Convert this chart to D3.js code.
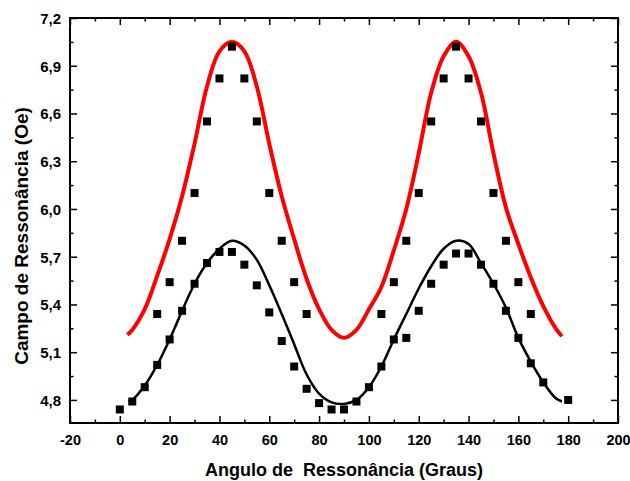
<!DOCTYPE html>
<html><head><meta charset="utf-8">
<script src="https://cdn.jsdelivr.net/npm/d3@7"></script>
<style>body{margin:0;background:#fff}svg{display:block}</style>
</head><body><svg id="c" width="630" height="481"></svg>
<script>
// ---- data ----
const lowerAngles = [0,5,10,15,20,25,30,35,40,45,50,55,60,65,70,75,80,85,90,95,100,105,110,115,120,125,130,135,140,145,150,155,160,165,170,180];
const lowerValues = [4.74,4.79,4.88,5.02,5.18,5.36,5.53,5.66,5.73,5.73,5.65,5.52,5.35,5.17,5.01,4.87,4.78,4.74,4.74,4.79,4.88,5.01,5.18,5.19,5.36,5.53,5.65,5.72,5.72,5.65,5.53,5.36,5.19,5.03,4.91,4.80];

const upperAngles = [15,20,25,30,35,40,45,50,55,60,65,70,75,105,110,115,120,125,130,135,140,145,150,155,160,165];
const upperValues = [5.34,5.54,5.80,6.10,6.55,6.82,7.02,6.82,6.55,6.10,5.80,5.54,5.34,5.34,5.54,5.80,6.10,6.55,6.82,7.02,6.82,6.55,6.10,5.80,5.54,5.34];

const redFitAngles = [3,5,10,15,20,25,30,35,40,45,50,55,60,65,70,75,80,85,90,95,100,105,110,115,120,125,130,135,140,145,150,155,160,165,170,175,177.5];
const redFitValues = [5.21,5.24,5.37,5.58,5.81,6.08,6.41,6.77,6.99,7.05,6.99,6.77,6.41,6.08,5.81,5.56,5.37,5.24,5.19,5.24,5.37,5.51,5.74,6.00,6.35,6.73,6.96,7.05,6.96,6.73,6.35,6.01,5.78,5.57,5.39,5.25,5.20];

const blackFitAngles = [3.5,5,10,15,20,25,30,35,40,45,50,55,60,65,70,75,80,85,90,95,100,105,110,115,120,125,130,135,140,145,150,155,160,165,170,175,177.5];
const blackFitValues = [4.79,4.80,4.89,5.02,5.18,5.36,5.53,5.66,5.75,5.80,5.77,5.68,5.52,5.34,5.15,4.96,4.84,4.785,4.775,4.80,4.88,5.01,5.18,5.34,5.50,5.64,5.75,5.80,5.78,5.66,5.53,5.38,5.19,5.04,4.91,4.81,4.79];

const xTickValues = [-20,0,20,40,60,80,100,120,140,160,180,200];
const xMinorValues = [-10,10,30,50,70,90,110,130,150,170,190];
const yTickValues = [4.8,5.1,5.4,5.7,6.0,6.3,6.6,6.9,7.2];
const yTickLabels = ["4,8","5,1","5,4","5,7","6,0","6,3","6,6","6,9","7,2"];
const yMinorValues = [4.95,5.25,5.55,5.85,6.15,6.45,6.75,7.05];

const xTitle = "Angulo de\u00a0 Ressonância (Graus)";
const yTitle = "Campo de Ressonância (Oe)";

// ---- layout ----
const L = 70, R = 618, T = 18, B = 423;
const svg = d3.select("#c");
const x = d3.scaleLinear().domain([-20,200]).range([L,R]);
const y = d3.scaleLinear().domain([4.655,7.2]).range([B,T]);
const FONT = "'Liberation Sans', Arial, sans-serif";

function styleAxis(g){
  g.select(".domain").remove();
  g.selectAll(".tick line").attr("stroke","#000").attr("stroke-width",1.5);
  g.selectAll("text").attr("font-family",FONT).attr("font-weight","bold").attr("fill","#000");
}
// bottom
svg.append("g").attr("transform",`translate(0,${B})`)
  .call(d3.axisBottom(x).tickValues(xTickValues).tickSize(-7).tickPadding(0).tickFormat(d=>d))
  .call(styleAxis)
  .call(g=>g.selectAll("text").attr("font-size",14.5).attr("y",22).attr("dy",0));
svg.append("g").attr("transform",`translate(0,${B})`)
  .call(d3.axisBottom(x).tickValues(xMinorValues).tickSize(-3.5).tickFormat(""))
  .call(styleAxis);
// top
svg.append("g").attr("transform",`translate(0,${T})`)
  .call(d3.axisTop(x).tickValues(xTickValues).tickSize(-7).tickFormat(""))
  .call(styleAxis);
svg.append("g").attr("transform",`translate(0,${T})`)
  .call(d3.axisTop(x).tickValues(xMinorValues).tickSize(-3.5).tickFormat(""))
  .call(styleAxis);
// left
svg.append("g").attr("transform",`translate(${L},0)`)
  .call(d3.axisLeft(y).tickValues(yTickValues).tickSize(-7).tickPadding(0).tickFormat((d,i)=>yTickLabels[i]))
  .call(styleAxis)
  .call(g=>g.selectAll("text").attr("font-size",15).attr("x",-9).attr("dy","0.36em"));
svg.append("g").attr("transform",`translate(${L},0)`)
  .call(d3.axisLeft(y).tickValues(yMinorValues).tickSize(-3.5).tickFormat(""))
  .call(styleAxis);
// right
svg.append("g").attr("transform",`translate(${R},0)`)
  .call(d3.axisRight(y).tickValues(yTickValues).tickSize(-7).tickFormat(""))
  .call(styleAxis);
svg.append("g").attr("transform",`translate(${R},0)`)
  .call(d3.axisRight(y).tickValues(yMinorValues).tickSize(-3.5).tickFormat(""))
  .call(styleAxis);

// frame
svg.append("rect").attr("x",L).attr("y",T).attr("width",R-L).attr("height",B-T)
  .attr("fill","none").attr("stroke","#000").attr("stroke-width",2);

// fit lines
const line = d3.line().curve(d3.curveCatmullRom.alpha(0.5)).x(d=>x(d[0])).y(d=>y(d[1]));
svg.append("path").datum(redFitAngles.map((a,i)=>[a,redFitValues[i]]))
  .attr("d",line).attr("fill","none").attr("stroke","#ff0000").attr("stroke-width",4).attr("stroke-linejoin","round");
svg.append("path").datum(blackFitAngles.map((a,i)=>[a,blackFitValues[i]]))
  .attr("d",line).attr("fill","none").attr("stroke","#000").attr("stroke-width",2.5).attr("stroke-linejoin","round");

// points
const S = 8;
svg.append("g").selectAll("rect").data(upperAngles.map((a,i)=>[a,upperValues[i]]))
  .join("rect").attr("x",d=>x(d[0])-S/2).attr("y",d=>y(d[1])-S/2).attr("width",S).attr("height",S).attr("fill","#000");
svg.append("g").selectAll("rect").data(lowerAngles.map((a,i)=>[a,lowerValues[i]]))
  .join("rect").attr("x",d=>x(d[0])-S/2).attr("y",d=>y(d[1])-S/2).attr("width",S).attr("height",S).attr("fill","#000");

// titles
svg.append("text").attr("x",(L+R)/2).attr("y",476).attr("text-anchor","middle")
  .attr("font-family",FONT).attr("font-weight","bold").attr("font-size",18).text(xTitle);
svg.append("text").attr("transform",`translate(28,236) rotate(-90)`).attr("text-anchor","middle")
  .attr("font-family",FONT).attr("font-weight","bold").attr("font-size",19).text(yTitle);
</script></body></html>
